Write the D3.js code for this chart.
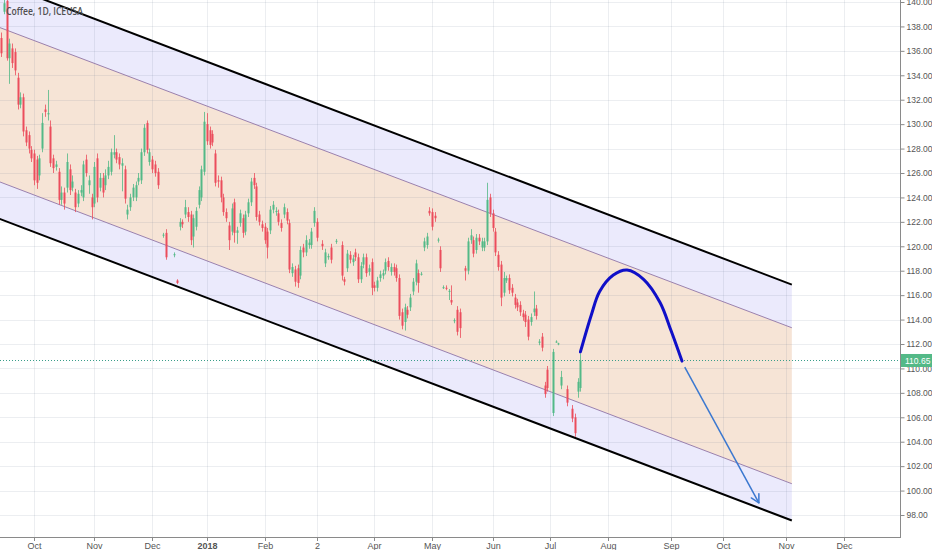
<!DOCTYPE html>
<html><head><meta charset="utf-8">
<script src="https://cdn.jsdelivr.net/npm/d3@7"></script>
<style>html,body{margin:0;padding:0;background:#fff;}svg{display:block}</style>
</head><body>
<svg id="chart" width="932" height="550"></svg>
<script>
// ---------------- DATA ----------------
const chartTitle = "Coffee, 1D, ICEUSA";
const holidays = ["2017-09-04","2017-11-23","2017-12-25","2018-01-01","2018-01-15","2018-02-19",
  "2018-03-30","2018-05-28","2018-07-04","2018-09-03","2018-11-22","2018-12-25"];
const firstCandleDate = "2017-09-14";

const openP = [137.05,139.2,140.1,135.4,136.2,135.9,133.8,131.6,132.2,129.5,129.1,127.9,127.6,127.1,125.8,128.0,131.2,130.8,129.8,127.2,
126.5,126.1,123.8,124.4,124.8,126.3,124.8,124.4,123.5,124.4,124.0,127.1,125.0,124.0,123.5,127.2,124.8,125.6,125.0,125.8,
126.1,127.5,127.7,127.3,126.6,126.3,122.6,123.2,124.0,124.0,125.3,125.4,127.7,130.1,126.9,127.1,126.7,126.1,null,120.9,
121.1,null,null,119.3,117.2,121.6,122.0,122.6,122.8,122.6,120.8,121.6,123.4,124.0,126.1,130.0,129.5,129.2,127.6,125.4,
125.4,124.0,122.8,121.7,121.2,123.6,121.1,121.9,122.3,121.2,122.7,123.6,125.6,124.9,122.6,121.8,121.6,121.2,121.3,123.0,
122.8,122.7,121.9,122.6,122.8,121.9,117.8,118.1,118.2,117.6,119.9,119.5,120.1,120.1,121.9,122.0,null,120.2,118.6,119.1,
119.9,null,120.4,null,120.1,117.3,118.2,119.3,118.7,119.5,119.1,117.3,118.5,119.1,117.9,118.7,116.8,116.6,117.4,117.6,
118.0,118.8,117.9,118.3,118.2,117.4,114.6,113.8,114.8,115.0,116.3,117.1,117.8,117.7,119.9,120.1,122.9,122.8,122.5,120.5,
119.7,116.6,116.6,116.3,115.6,113.9,114.8,114.6,null,118.2,118.0,120.5,120.5,119.7,120.7,119.9,119.9,120.4,124.0,122.7,
121.2,119.3,118.5,116.2,117.2,117.4,116.6,115.8,115.4,115.2,114.5,114.4,114.0,113.8,114.6,114.9,112.1,112.6,108.6,109.9,
null,106.35,112.2,112.0,108.6,null,108.3,null,106.7,106.0,108.1,108.4];
const highP = [137.5,140.2,140.5,137.0,136.6,136.2,134.2,132.6,132.5,129.8,129.4,128.2,127.9,127.4,127.5,130.9,131.6,132.8,130.3,127.5,
127.0,126.4,124.9,124.8,127.6,126.7,125.8,124.7,124.6,125.0,127.0,127.5,125.8,124.3,126.9,127.6,126.0,126.0,126.3,127.0,
128.0,129.1,128.0,127.6,127.2,126.6,123.4,124.3,125.1,125.3,126.0,128.0,130.0,130.3,128.0,127.4,127.0,126.4,null,121.1,
121.4,null,null,119.5,117.3,122.3,122.2,123.8,123.2,122.9,122.6,123.2,124.9,126.6,131.0,130.9,129.8,129.5,127.9,125.8,
125.7,124.3,123.1,122.0,123.5,123.9,121.6,123.0,122.6,122.9,123.9,125.6,126.0,125.2,122.9,122.1,121.9,121.5,123.3,123.7,
123.2,123.0,122.2,123.5,123.1,122.2,118.6,118.4,118.5,120.0,120.2,120.9,120.6,121.5,123.2,122.3,null,120.5,119.8,119.4,
120.2,null,120.6,null,120.4,117.5,119.7,119.6,119.3,119.8,119.4,118.7,119.4,119.4,118.5,119.0,117.1,117.5,118.0,118.1,
119.0,119.1,118.6,118.6,118.5,117.7,114.9,115.3,115.1,116.1,117.4,118.9,118.1,117.9,120.7,121.1,123.2,123.1,122.8,120.7,
120.0,116.8,116.8,116.5,116.8,114.1,115.1,114.9,null,118.4,120.7,121.4,120.8,121.0,121.0,120.7,120.7,125.2,124.3,123.0,
121.5,119.6,118.8,117.9,117.6,117.7,116.9,116.1,115.7,115.5,114.8,114.7,114.3,114.5,116.3,115.2,112.4,112.9,108.9,110.2,
null,111.6,112.3,112.1,109.8,null,108.6,null,107.0,106.3,109.2,111.2];
const lowP = [135.5,139.0,135.2,133.3,134.6,134.0,131.2,131.3,129.0,128.2,127.6,126.9,125.0,124.7,125.4,127.7,130.6,130.3,126.5,126.0,
126.2,123.4,123.4,123.0,124.4,124.2,124.5,122.8,123.2,124.1,123.7,125.7,124.3,122.2,123.2,123.6,124.5,124.0,124.6,125.5,
125.8,127.2,126.8,126.3,124.5,123.5,122.2,122.9,123.7,123.7,125.0,125.1,127.4,127.6,126.6,126.0,125.7,124.7,null,120.7,
118.9,null,null,119.1,116.9,121.3,121.5,122.3,122.0,120.1,119.9,121.3,123.1,123.7,125.8,128.3,128.0,128.2,124.9,124.8,
123.6,122.5,122.0,119.7,120.9,120.3,120.2,121.6,120.7,120.9,122.4,123.3,124.7,122.1,121.7,121.2,120.2,119.0,121.0,122.7,
122.5,121.7,121.2,122.3,121.8,117.8,117.5,116.7,116.6,117.3,119.1,119.2,119.8,119.8,121.6,120.4,null,119.7,118.3,118.9,
118.6,null,120.2,null,117.2,116.8,117.9,118.6,118.4,118.8,117.0,117.0,118.2,117.5,117.6,116.0,116.3,116.3,117.1,117.3,
117.7,118.0,117.6,117.6,117.1,114.0,113.2,113.1,114.1,114.7,116.0,116.8,116.2,117.6,119.6,119.8,122.5,121.3,122.0,120.3,
117.9,116.5,116.4,115.6,115.2,113.7,112.7,112.5,null,117.2,117.7,120.2,119.1,119.4,120.1,119.6,119.6,120.1,122.4,121.2,
119.2,118.0,115.1,115.9,117.0,116.1,115.9,114.9,114.7,114.3,113.9,113.4,112.3,113.5,114.3,114.0,111.9,111.4,107.6,108.1,
null,106.1,112.1,111.9,108.3,null,106.9,null,105.6,104.4,107.6,108.1];
const closeP = [135.8,139.9,135.4,136.6,135.0,134.4,131.6,132.2,129.4,128.5,128.0,127.2,125.4,125.2,127.2,130.1,131.0,130.9,126.8,126.4,
126.7,123.8,124.4,123.5,126.9,124.6,125.3,123.2,124.3,124.6,126.7,126.0,125.4,123.2,126.5,124.0,125.6,124.4,125.8,126.5,
127.7,127.7,127.1,126.7,126.8,123.9,123.0,124.0,124.8,125.0,125.6,127.7,129.7,127.9,127.7,126.3,126.0,125.0,null,120.95,
119.1,null,null,119.35,117.0,122.0,121.8,123.2,122.4,120.5,122.3,122.9,124.6,126.3,130.2,128.6,128.3,128.5,125.2,125.3,
124.0,122.8,122.3,120.5,123.1,121.1,121.3,122.7,121.1,122.6,123.6,125.3,125.0,122.4,122.0,121.5,120.5,119.9,123.0,123.4,
122.9,122.0,121.5,123.2,122.1,118.1,118.3,117.1,117.0,119.7,119.5,120.5,120.3,121.2,122.9,120.7,null,120.0,119.5,119.2,
118.9,null,120.45,null,117.6,117.1,119.4,118.9,119.0,119.1,117.3,118.4,119.1,117.8,118.2,116.6,116.6,117.2,117.7,117.8,
118.7,118.3,118.3,117.9,117.4,114.3,113.5,115.0,114.4,115.8,117.1,118.6,117.0,117.75,120.4,120.8,122.7,121.6,122.3,120.55,
118.2,116.65,116.55,116.35,115.4,113.95,113.0,113.3,null,118.0,120.4,120.9,119.4,120.7,120.4,120.4,120.4,123.8,122.7,121.5,
119.5,118.3,115.8,117.4,117.4,116.4,116.2,115.2,115.0,114.6,114.2,113.8,112.6,114.2,114.9,114.3,112.2,111.7,107.9,108.4,
null,111.35,112.2,112.05,109.3,null,107.2,null,105.9,104.7,108.9,110.65];

const lastPrice = 110.65;
const priceTicks = [98,100,102,104,106,108,110,112,114,116,118,120,122,124,126,128,130,132,134,136,138,140];
const monthTickDates = ["2017-10-02","2017-11-01","2017-12-01","2018-01-02","2018-02-01","2018-03-01","2018-04-02",
  "2018-05-01","2018-06-01","2018-07-02","2018-08-01","2018-09-04","2018-10-01","2018-11-01","2018-12-03"];
const monthTickLabels = ["Oct","Nov","Dec","2018","Feb","2","Apr","May","Jun","Jul","Aug","Sep","Oct","Nov","Dec"];

// channel: prices at the two anchor dates
const channelDates = ["2017-09-14","2018-11-05"];
const upperOuter = [141.54, 116.86];
const upperInner = [137.87, 113.33];
const lowerInner = [125.23, 100.56];
const lowerOuter = [122.20, 97.55];

// projected arc and arrow
const arcDates = ["2018-07-18","2018-07-24","2018-07-27","2018-08-03","2018-08-10","2018-08-20","2018-08-28","2018-09-04","2018-09-10"];
const arcPrices = [111.35, 114.4, 116.3, 117.65, 118.06, 117.3, 115.4, 113.1, 110.6];
const arrowDates = ["2018-09-11","2018-10-18"];
const arrowPrices = [110.1, 99.0];

// ---------------- CHART ----------------
const W = 932, H = 550, plotR = 900, plotB = 537;
const fmt = d3.timeFormat("%Y-%m-%d");
const hol = new Set(holidays);
const days = d3.timeDay.range(new Date(2017,8,1), new Date(2019,0,1))
  .filter(d => d.getDay() !== 0 && d.getDay() !== 6 && !hol.has(fmt(d)));
const idxOf = {};
days.forEach((d,i) => idxOf[fmt(d)] = i);
const idx = s => idxOf[s];

const x = d3.scaleLinear().domain([idx("2017-10-02"), idx("2018-12-03")]).range([34, 844]);
const y = d3.scaleLinear().domain([98, 140]).range([515, 2]);

const svg = d3.select("#chart");
svg.append("rect").attr("width", W).attr("height", H).attr("fill", "#fff");
svg.append("clipPath").attr("id","plot").append("rect").attr("x",0).attr("y",0).attr("width",plotR).attr("height",plotB);
const plot = svg.append("g").attr("clip-path","url(#plot)");

// channel fills
const i0 = idx(channelDates[0]), i1 = idx(channelDates[1]);
const lineFn = arr => i => arr[0] + (arr[1]-arr[0]) * (i - i0) / (i1 - i0);
const uo = lineFn(upperOuter), ui = lineFn(upperInner), li = lineFn(lowerInner), lo = lineFn(lowerOuter);
const iL = x.invert(-2);
const span = [iL, i1];
const band = (fa, fb, color) => plot.append("path")
  .attr("d", d3.area().x(i => x(i)).y0(i => y(fa(i))).y1(i => y(fb(i)))(span))
  .attr("fill", color);
band(uo, ui, "#ebeafc");
band(ui, li, "#f6e4d6");
band(li, lo, "#ebeafc");

// grid
const grid = plot.append("g").attr("stroke", "rgba(110,120,150,0.13)").attr("stroke-width", 1);
priceTicks.forEach(p => grid.append("line").attr("x1",0).attr("x2",plotR)
  .attr("y1", Math.round(y(p))+0.5).attr("y2", Math.round(y(p))+0.5));
monthTickDates.forEach(d => grid.append("line").attr("y1",0).attr("y2",plotB)
  .attr("x1", Math.round(x(idx(d)))+0.5).attr("x2", Math.round(x(idx(d)))+0.5));

// channel lines
const drawLine = (f, color, w) => plot.append("path")
  .attr("d", d3.line().x(i => x(i)).y(i => y(f(i)))(span))
  .attr("fill","none").attr("stroke", color).attr("stroke-width", w);
drawLine(ui, "#9a80ad", 1);
drawLine(li, "#9a80ad", 1);
drawLine(uo, "#000", 2);
drawLine(lo, "#000", 2);

// last price line
plot.append("line").attr("x1",0).attr("x2",plotR)
  .attr("y1", Math.round(y(lastPrice))+0.5).attr("y2", Math.round(y(lastPrice))+0.5)
  .attr("stroke","#3a9e8a").attr("stroke-width",1).attr("stroke-dasharray","1,2");

// candles
const s0 = idx(firstCandleDate);
const up = "#53b987", dn = "#eb4d5c";
const cg = plot.append("g");
openP.forEach((o, k) => {
  if (o === null) return;
  const h = highP[k], l = lowP[k], c = closeP[k];
  const cx = Math.round(x(s0 + k));
  const col = c >= o ? up : dn;
  cg.append("line").attr("x1", cx+0.5).attr("x2", cx+0.5).attr("y1", y(h)).attr("y2", y(l))
    .attr("stroke", col).attr("stroke-width", 1).attr("opacity", 0.8);
  const top = y(Math.max(o,c)), bot = y(Math.min(o,c));
  cg.append("rect").attr("x", cx-0.5).attr("width", 2).attr("y", top).attr("height", Math.max(1, bot-top))
    .attr("fill", col);
});

// projection arc
plot.append("path")
  .attr("d", d3.line().curve(d3.curveCatmullRom).x((d,i) => x(idx(d))).y((d,i) => y(arcPrices[i]))(arcDates))
  .attr("fill","none").attr("stroke","#1010c8").attr("stroke-width",3).attr("stroke-linecap","round");

// arrow
const ax1 = x(idx(arrowDates[0])), ay1 = y(arrowPrices[0]);
const ax2 = x(idx(arrowDates[1])), ay2 = y(arrowPrices[1]);
plot.append("line").attr("x1",ax1).attr("y1",ay1).attr("x2",ax2).attr("y2",ay2)
  .attr("stroke","#3b78d0").attr("stroke-width",1.5);
const ang = Math.atan2(ay2-ay1, ax2-ax1), hl = 9;
[-0.5, 0.5].forEach(da => plot.append("line")
  .attr("x1",ax2).attr("y1",ay2)
  .attr("x2",ax2 - hl*Math.cos(ang+da)).attr("y2",ay2 - hl*Math.sin(ang+da))
  .attr("stroke","#3b78d0").attr("stroke-width",1.5).attr("stroke-linecap","round"));

// title
svg.append("text").attr("x",6).attr("y",15).text(chartTitle)
  .attr("font-family","'Open Sans', 'Liberation Sans', sans-serif").attr("font-size",11).attr("font-weight",600)
  .attr("fill","#505050").attr("textLength",77).attr("lengthAdjust","spacingAndGlyphs");

// axes
const axisCol = "#8a8a8a", txtCol = "#555";
svg.append("line").attr("x1",plotR+0.5).attr("x2",plotR+0.5).attr("y1",0).attr("y2",plotB+1).attr("stroke",axisCol);
svg.append("line").attr("x1",0).attr("x2",plotR+1).attr("y1",plotB+0.5).attr("y2",plotB+0.5).attr("stroke",axisCol);
const yAxis = d3.axisRight(y).tickValues(priceTicks).tickFormat(d3.format(".2f")).tickSize(4).tickPadding(2);
const ya = svg.append("g").attr("transform",`translate(${plotR+0.5},0)`).call(yAxis);
ya.select(".domain").remove();
ya.selectAll("line").attr("stroke",axisCol);
ya.selectAll("text").attr("fill",txtCol).attr("font-family","'Liberation Sans', Arial, sans-serif").attr("font-size",8.5);

const xa = svg.append("g");
monthTickDates.forEach((d,i) => {
  const px = Math.round(x(idx(d)))+0.5;
  xa.append("line").attr("x1",px).attr("x2",px).attr("y1",plotB+1).attr("y2",plotB+4).attr("stroke",axisCol);
  xa.append("text").attr("x",px).attr("y",549).attr("text-anchor","middle")
    .attr("font-family","'Liberation Sans', Arial, sans-serif").attr("font-size",9)
    .attr("font-weight", monthTickLabels[i] === "2018" ? "bold" : "normal")
    .attr("fill",txtCol).text(monthTickLabels[i]);
});

// last price label
const ly = y(lastPrice);
svg.append("rect").attr("x",plotR+1).attr("y",ly-6.5).attr("width",31).attr("height",13).attr("fill","#53b987");
svg.append("text").attr("x",plotR+5).attr("y",ly+3.5).text(d3.format(".2f")(lastPrice))
  .attr("fill","#fff").attr("font-family","'Liberation Sans', Arial, sans-serif").attr("font-size",8.5);
</script>
</body></html>
